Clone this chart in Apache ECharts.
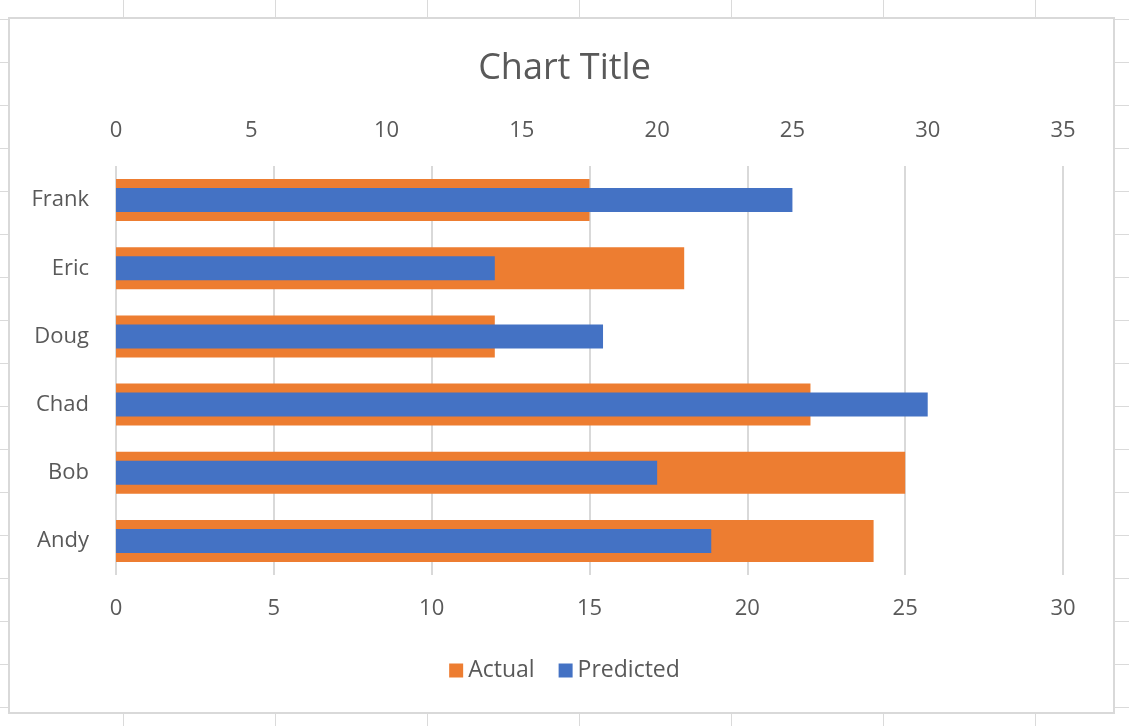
<!DOCTYPE html>
<html>
<head>
<meta charset="utf-8">
<script src="https://cdn.jsdelivr.net/npm/echarts@6/dist/echarts.min.js"></script>
<style>
  html, body { margin: 0; padding: 0; background: #ffffff; }
  #sheet {
    position: absolute; left: 0; top: 0; width: 1129px; height: 726px;
    background-color: #ffffff;
    background-image:
      linear-gradient(to right, #dadada 1px, transparent 1px),
      linear-gradient(to bottom, #dadada 1px, transparent 1px);
    background-size: 152px 43px;
    background-position: 123px 19px;
  }
  #chart { position: absolute; left: 0; top: 0; width: 1129px; height: 726px; }
</style>
</head>
<body>
<div id="sheet"></div>
<div id="chart"></div>
<script>
const categories = ['Andy', 'Bob', 'Chad', 'Doug', 'Eric', 'Frank'];
const actual = [24, 25, 22, 12, 18, 15];
const predicted = [22, 20, 30, 18, 14, 25];
const primaryTicks = { min: 0, max: 30, interval: 5 };
const secondaryTicks = { min: 0, max: 35, interval: 5 };

const FONT = '"Open Sans", "Noto Sans", sans-serif';
const TEXT = '#595959';

const chart = echarts.init(document.getElementById('chart'), null, { renderer: 'canvas' });
chart.setOption({
  backgroundColor: 'transparent',
  animation: false,
  graphic: [{
    type: 'rect', z: -10, silent: true,
    shape: { x: 9, y: 18, width: 1105, height: 695 },
    style: { fill: '#ffffff', stroke: '#d9d9d9', lineWidth: 2 }
  }],
  title: {
    text: 'Chart Title', left: 'center', top: 46,
    textStyle: { fontFamily: FONT, fontSize: 36, fontWeight: 'normal', color: TEXT }
  },
  legend: {
    bottom: 39, left: 'center', itemWidth: 14, itemHeight: 14, itemGap: 24,
    icon: 'rect',
    textStyle: { fontFamily: FONT, fontSize: 23, color: TEXT },
    data: ['Actual', 'Predicted']
  },
  grid: { left: 116, right: 66, top: 166, bottom: 151, containLabel: false },
  xAxis: [{
    type: 'value', position: 'bottom',
    min: primaryTicks.min, max: primaryTicks.max, interval: primaryTicks.interval,
    axisLine: { show: false }, axisTick: { show: false },
    splitLine: { show: true, lineStyle: { color: '#d9d9d9', width: 2 } },
    axisLabel: { margin: 23, fontFamily: FONT, fontSize: 22, color: TEXT }
  }, {
    type: 'value', position: 'top',
    min: secondaryTicks.min, max: secondaryTicks.max, interval: secondaryTicks.interval,
    axisLine: { show: false }, axisTick: { show: false }, splitLine: { show: false },
    axisLabel: { margin: 24, fontFamily: FONT, fontSize: 22, color: TEXT }
  }],
  yAxis: [{
    type: 'category', data: categories,
    axisLine: { show: false }, axisTick: { show: false },
    axisLabel: { margin: 27, fontFamily: FONT, fontSize: 22, color: TEXT }
  }, {
    type: 'category', data: categories, show: false
  }],
  series: [{
    name: 'Actual', type: 'bar', xAxisIndex: 0, yAxisIndex: 0,
    data: actual, barWidth: 42, itemStyle: { color: '#ed7d31' }
  }, {
    name: 'Predicted', type: 'bar', xAxisIndex: 1, yAxisIndex: 1,
    data: predicted, barWidth: 24, itemStyle: { color: '#4472c4' }, z: 3
  }]
});
</script>
</body>
</html>
